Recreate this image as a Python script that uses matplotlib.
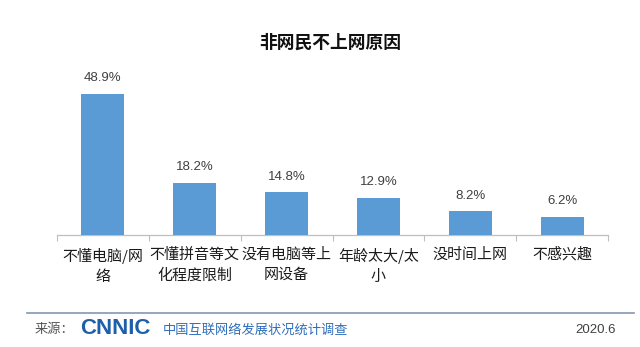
import numpy as np
import matplotlib
matplotlib.use("Agg")
import matplotlib.pyplot as plt

plt.rcParams['font.family'] = ['Noto Sans CJK SC', 'DejaVu Sans']

# 数据
title = "非网民不上网原因"
categories = ["不懂电脑/网\n络", "不懂拼音等文\n化程度限制", "没有电脑等上\n网设备",
              "年龄太大/太\n小", "没时间上网", "不感兴趣"]
values = [48.9, 18.2, 14.8, 12.9, 8.2, 6.2]
source_text = "中国互联网络发展状况统计调查"
date_text = "2020.6"

W, H = 640, 347
fig = plt.figure(figsize=(W / 100, H / 100), dpi=100)
fig.patch.set_facecolor("white")

# 坐标轴区域（像素换算）
ax_left, ax_right = 57 / W, 608 / W
ax_bottom = 1 - 235 / H
ax_top = 1 - 62 / H
ax = fig.add_axes([ax_left, ax_bottom, ax_right - ax_left, ax_top - ax_bottom])
ax.patch.set_alpha(0)

x = np.arange(len(categories))
bars = ax.bar(x, values, width=0.47, color="#5b9bd5", zorder=3)
ax.set_xlim(-0.5, len(categories) - 0.5)
ax.set_ylim(0, 60)

for b, v in zip(bars, values):
    ax.annotate(f"{v}%", (b.get_x() + b.get_width() / 2, v),
                xytext=(0, 7), textcoords="offset points",
                ha="center", va="bottom", fontsize=9.5, color="#404040",
                family=["Liberation Sans", "DejaVu Sans"])

ax.set_xticks(x)
ax.set_xticklabels(categories, fontsize=10.8, color="#1a1a1a", linespacing=1.6)
ax.set_xticks(np.arange(-0.5, len(categories)), minor=True)
ax.tick_params(axis="x", which="major", length=0, pad=9)
ax.tick_params(axis="x", which="minor", length=4, color="#bfbfbf", width=0.8)
ax.set_yticks([])
for s in ["top", "right", "left"]:
    ax.spines[s].set_visible(False)
ax.spines["bottom"].set_color("#bfbfbf")
ax.spines["bottom"].set_linewidth(0.9)

# 标题
fig.text(330 / W, 1 - 43 / H, title, fontsize=12.8, fontweight="bold",
         ha="center", va="center", color="#111111")

# 页脚
fig.add_artist(plt.Line2D([27 / W, 634 / W], [1 - 313 / H, 1 - 313 / H],
                          color="#8497b0", linewidth=1.2))
fig.text(35 / W, 1 - 330 / H, "来源：", fontsize=9.5, color="#555555",
         ha="left", va="center")
fig.text(80 / W, 1 - 329 / H, "CNNIC", fontsize=16, fontweight="bold",
         color="#1f5fa8", ha="left", va="center",
         family=["Liberation Sans", "DejaVu Sans"])
fig.text(163 / W, 1 - 330 / H, source_text, fontsize=9.5, color="#2f6eba",
         ha="left", va="center")
fig.text(596 / W, 1 - 330 / H, date_text, fontsize=9.5, color="#404040",
         ha="center", va="center", family=["Liberation Sans", "DejaVu Sans"])

fig.savefig("out.png", dpi=100, facecolor="white")
